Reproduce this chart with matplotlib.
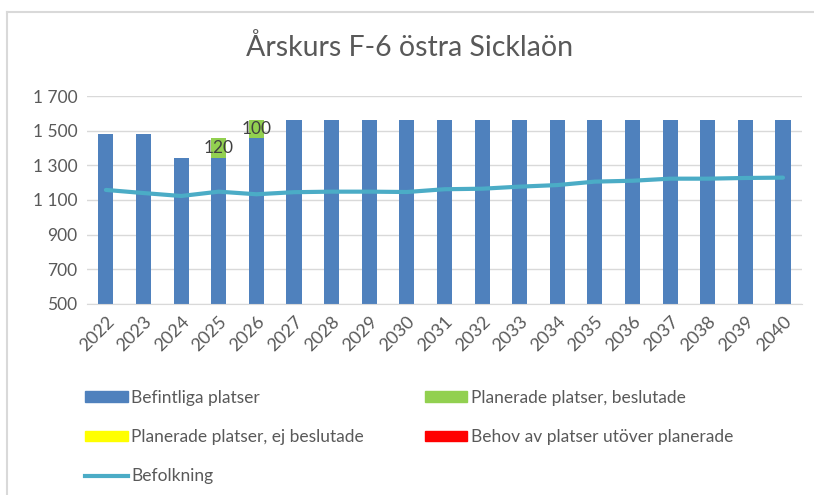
import matplotlib.pyplot as plt
from matplotlib.lines import Line2D
from matplotlib.patches import Patch
from matplotlib.ticker import FuncFormatter
import numpy as np

years = [str(y) for y in range(2022, 2041)]
befintliga = [1480, 1480, 1340, 1340, 1460] + [1560] * 14
planerade_beslutade = [0, 0, 0, 120, 100] + [0] * 14
planerade_ej = [0] * 19
behov = [0] * 19
befolkning = [1158, 1140, 1123, 1148, 1133, 1145, 1148, 1148, 1146, 1162,
              1165, 1177, 1186, 1206, 1211, 1223, 1223, 1227, 1229]

title = "Årskurs F-6 östra Sicklaön"
labels = ["Befintliga platser", "Planerade platser, beslutade",
          "Planerade platser, ej beslutade", "Behov av platser utöver planerade",
          "Befolkning"]
colors = ["#4F81BD", "#92D050", "#FFFF00", "#FF0000", "#4BACC6"]

plt.rcParams['font.family'] = ['Lato', 'DejaVu Sans']
text_col = "#595959"
fs = 12.5


def thousands(v, pos):
    return f"{int(v):,}".replace(",", " ")


def main():
    fig = plt.figure(figsize=(8.14, 4.95), dpi=100)
    ax = fig.add_axes([0.107, 0.386, 0.878, 0.42])

    x = np.arange(len(years))
    w = 0.4
    bottom = np.zeros(len(years))
    series = [befintliga, planerade_beslutade, planerade_ej, behov]
    for vals, c in zip(series, colors[:4]):
        vals = np.array(vals, dtype=float)
        bars = ax.bar(x, vals, w, bottom=bottom, color=c, zorder=2)
        if c == colors[1]:
            for b, v in zip(bars, vals):
                if v > 0:
                    ax.text(b.get_x() + b.get_width() / 2,
                            b.get_y() + v / 2, f"{int(v)}",
                            ha="center", va="center", fontsize=fs,
                            color="#404040", zorder=4)
        bottom += vals

    ax.plot(x, befolkning, color=colors[4], lw=3, solid_capstyle="round",
            zorder=3)

    ax.set_xlim(-0.5, len(years) - 0.5)
    ax.set_ylim(500, 1700)
    ax.set_yticks(range(500, 1701, 200))
    ax.yaxis.set_major_formatter(FuncFormatter(thousands))
    ax.set_xticks(x)
    ax.set_xticklabels(years, rotation=45, ha="right", rotation_mode="anchor")
    ax.grid(axis="y", color="#D9D9D9", lw=1, zorder=0)
    for s in ["top", "right", "left"]:
        ax.spines[s].set_visible(False)
    ax.spines["bottom"].set_color("#D9D9D9")
    ax.tick_params(axis="both", length=0, labelsize=fs, colors=text_col,
                   pad=7)
    ax.tick_params(axis="x", labelsize=13)

    fig.text(0.503, 0.905, title, ha="center", va="center", fontsize=20.5,
             color=text_col)

    # legend in two columns, placed like the original
    col1 = [Patch(color=colors[0]), Patch(color=colors[2]),
            Line2D([], [], color=colors[4], lw=3)]
    col2 = [Patch(color=colors[1]), Patch(color=colors[3])]
    opts = dict(loc="upper left", frameon=False, fontsize=fs,
                labelcolor=text_col, handlelength=2.45, handleheight=0.55,
                handletextpad=0.2, labelspacing=1.35, borderpad=0,
                borderaxespad=0)
    fig.legend(col1, [labels[0], labels[2], labels[4]],
               bbox_to_anchor=(0.1045, 0.213), **opts)
    fig.legend(col2, [labels[1], labels[3]],
               bbox_to_anchor=(0.522, 0.213), **opts)

    # chart frame (top and left edge visible in the original)
    fig.add_artist(Line2D([0.008, 1.0], [0.975, 0.975], color="#D9D9D9",
                          lw=1.5))
    fig.add_artist(Line2D([0.008, 0.008], [0.0, 0.975], color="#D9D9D9",
                          lw=1.5))

    fig.savefig("out.png", dpi=100)


if __name__ == "__main__":
    main()
